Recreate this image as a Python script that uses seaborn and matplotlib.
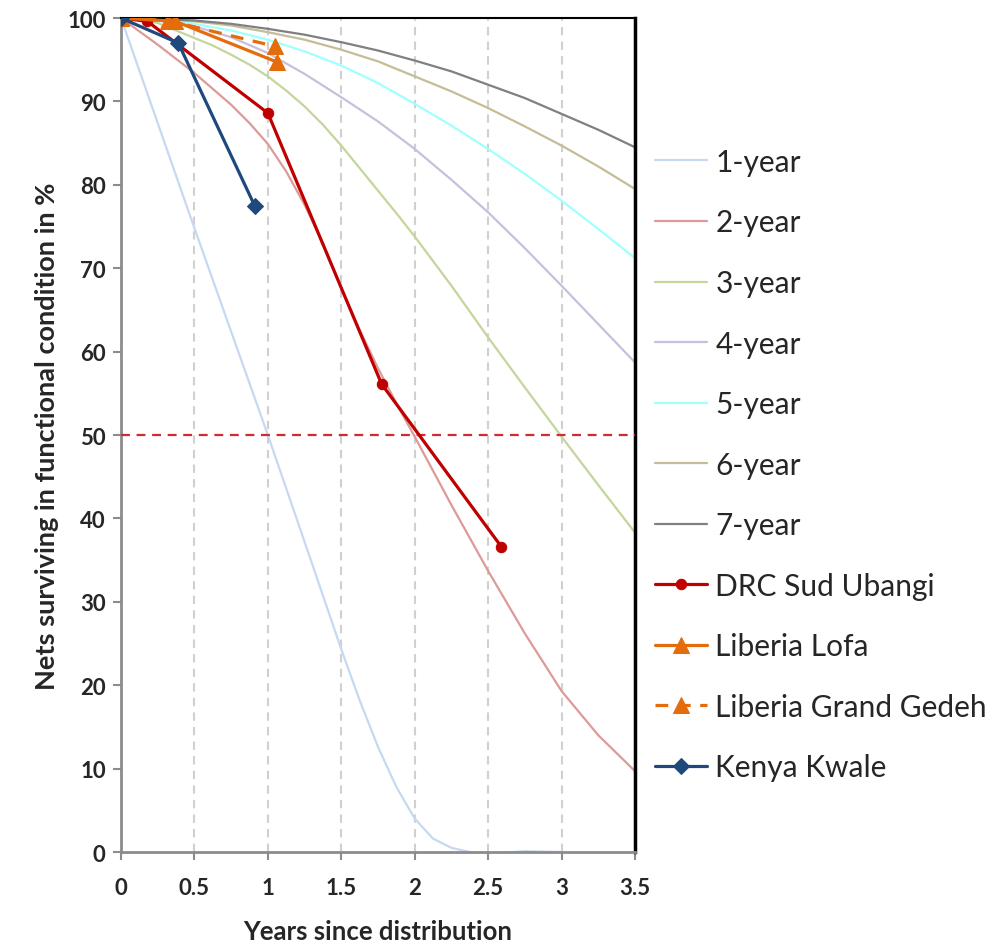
import numpy as np
import pandas as pd
import matplotlib
matplotlib.use("Agg")
import matplotlib.pyplot as plt
import seaborn as sns

# Years since distribution for the reference curves
years = [0, 0.25, 0.5, 0.75, 1, 1.25, 1.5, 1.75, 2, 2.25, 2.5, 2.75, 3, 3.25, 3.5]

# Reference survival curves (% nets functional)
y1_years = [0, 0.25, 0.5, 0.75, 1, 1.25, 1.5, 1.625, 1.75, 1.875, 2, 2.125, 2.25, 2.375, 2.5, 2.75, 3]
y1_vals = [100, 87.4, 74.8, 62.4, 50.0, 37.2, 24.3, 18.2, 12.6, 7.8, 4.0, 1.6, 0.5, 0.0, -0.2, 0.1, 0.0]
y2_years = [0, 0.25, 0.5, 0.75, 0.875, 1, 1.125, 1.25, 1.375, 1.5, 1.625, 1.75, 1.875, 2,
            2.25, 2.5, 2.75, 3, 3.25, 3.5]
y2_vals = [100, 96.8, 93.4, 89.6, 87.4, 84.9, 81.6, 77.6, 73.0, 67.6, 62.6, 58.0, 53.8, 49.8,
           41.6, 33.7, 26.2, 19.3, 14.0, 9.7]
y3_years = [0, 0.25, 0.5, 0.625, 0.75, 0.875, 1, 1.125, 1.25, 1.375, 1.5, 1.625, 1.75, 1.875, 2,
            2.25, 2.5, 2.75, 3, 3.25, 3.5]
y3_vals = [100, 99.4, 97.6, 96.7, 95.6, 94.4, 93.0, 91.3, 89.4, 87.2, 84.7, 82.0, 79.3, 76.6, 73.8,
           67.9, 61.7, 55.7, 49.8, 44.0, 38.3]
y4_vals = [100, 99.7, 99.0, 97.7, 95.8, 93.3, 90.5, 87.6, 84.3, 80.6, 76.7, 72.4, 67.9, 63.3, 58.7]
y5_vals = [100, 99.8, 99.3, 98.5, 97.4, 96.0, 94.3, 92.2, 89.7, 87.1, 84.3, 81.3, 78.1, 74.7, 71.2]
y6_vals = [100, 99.9, 99.6, 99.1, 98.3, 97.4, 96.2, 94.8, 93.0, 91.2, 89.2, 87.0, 84.7, 82.2, 79.5]
y7_vals = [100, 99.9, 99.7, 99.3, 98.7, 98.0, 97.1, 96.1, 94.9, 93.6, 92.0, 90.4, 88.5, 86.6, 84.5]

curve_names = ["1-year", "2-year", "3-year", "4-year", "5-year", "6-year", "7-year"]
curve_colors = ["#c6d9f1", "#dc9a98", "#c3d69b", "#c9bfdc", "#a0ffff", "#c4bd97", "#808080"]

# Field data
drc_years = [0, 0.18, 1.0, 1.775, 2.59]
drc_vals = [100, 99.6, 88.6, 56.1, 36.6]
lofa_years = [0, 0.37, 1.065]
lofa_vals = [100, 99.6, 94.7]
gedeh_years = [0, 0.32, 1.05]
gedeh_vals = [100, 99.7, 96.6]
kwale_years = [0, 0.39, 0.91]
kwale_vals = [100, 97.0, 77.5]

sns.set_style("white")
plt.rcParams["font.family"] = ["Lato", "DejaVu Sans"]
plt.rcParams["xtick.bottom"] = True
plt.rcParams["ytick.left"] = True

fig = plt.figure(figsize=(9.95, 9.45), dpi=100)
ax = fig.add_axes([121 / 995, 1 - 853 / 945, (635 - 121) / 995, (853 - 19) / 945])

curve_x = [y1_years, y2_years, y3_years] + [years] * 4
curve_y = [y1_vals, y2_vals, y3_vals, y4_vals, y5_vals, y6_vals, y7_vals]
for name, col, xs, ys in zip(curve_names, curve_colors, curve_x, curve_y):
    sns.lineplot(x=xs, y=ys, color=col, lw=1.6, label=name, ax=ax, zorder=2)

ax.axhline(50, color="#d02c2c", lw=1.6, ls=(0, (4, 3)), zorder=3)

sns.lineplot(x=drc_years, y=drc_vals, color="#c00000", lw=2.3, marker="o", ms=7.5,
             mec="#c00000", label="DRC Sud Ubangi", ax=ax, zorder=4)
sns.lineplot(x=lofa_years, y=lofa_vals, color="#e46c0a", lw=2.3, marker="^", ms=11,
             mec="#e46c0a", label="Liberia Lofa", ax=ax, zorder=4)
sns.lineplot(x=gedeh_years, y=gedeh_vals, color="#e46c0a", lw=2.3, marker="^", ms=11,
             mec="#e46c0a", ls=(0, (4, 3)), label="Liberia Grand Gedeh", ax=ax, zorder=4)
sns.lineplot(x=kwale_years, y=kwale_vals, color="#1f497d", lw=2.3, marker="D", ms=8.5,
             mec="#1f497d", label="Kenya Kwale", ax=ax, zorder=5)

ax.set_xlim(0, 3.5)
ax.set_ylim(0, 100)
ax.set_xticks(np.arange(0, 3.51, 0.5))
ax.set_xticklabels(["0", "0.5", "1", "1.5", "2", "2.5", "3", "3.5"])
ax.set_yticks(np.arange(0, 101, 10))

ax.xaxis.grid(True, color="#d0d0d0", lw=1.5, ls=(0, (4, 3)))
ax.yaxis.grid(False)

for side in ["left", "bottom"]:
    ax.spines[side].set_color("#8c8c8c")
    ax.spines[side].set_linewidth(2)
ax.spines["top"].set_color("black")
ax.spines["top"].set_linewidth(1.5)
ax.spines["right"].set_color("black")
ax.spines["right"].set_linewidth(2.5)

ax.tick_params(axis="both", direction="out", length=6, width=1.5, color="#8c8c8c", labelsize=16)
ax.tick_params(axis="x", pad=12)
ax.tick_params(axis="y", pad=5)
for lab in ax.get_xticklabels() + ax.get_yticklabels():
    lab.set_fontweight("bold")

ax.set_xlabel("Years since distribution", fontsize=18.5, fontweight="bold", labelpad=15)
ax.set_ylabel("Nets surviving in functional condition in %", fontsize=19.5, fontweight="bold", labelpad=6)

handles, labels = ax.get_legend_handles_labels()
ax.legend_.remove()
fig.legend(handles, labels, loc="upper left", bbox_to_anchor=(628 / 995, 1 - 122 / 945),
           frameon=False, fontsize=21.5, handlelength=1.75, handletextpad=0.27, labelspacing=1.09)

plt.savefig("out.png", dpi=100)
plt.close()
